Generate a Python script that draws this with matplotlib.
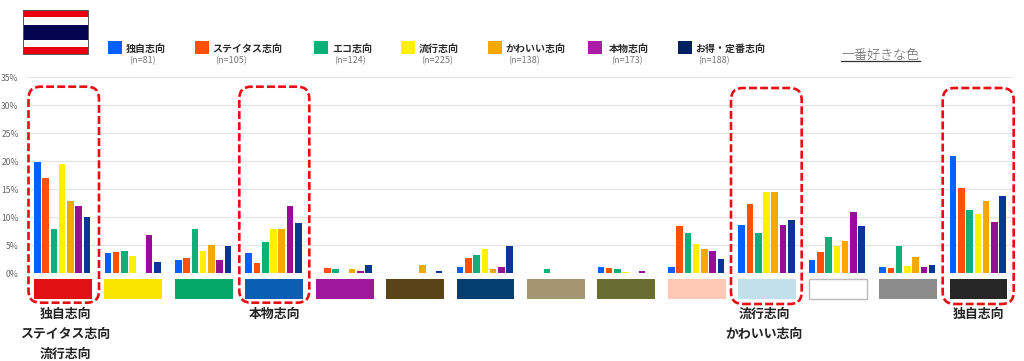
import matplotlib
matplotlib.use("Agg")
import matplotlib.pyplot as plt
from matplotlib.patches import Rectangle, FancyBboxPatch
from matplotlib.lines import Line2D
from matplotlib.transforms import blended_transform_factory

plt.rcParams['font.family'] = ['Noto Sans CJK JP', 'DejaVu Sans']

W, H = 1024, 361

series_names = ['独自志向', 'ステイタス志向', 'エコ志向', '流行志向', 'かわいい志向', '本物志向', 'お得・定番志向']
series_n = ['(n=81)', '(n=105)', '(n=124)', '(n=225)', '(n=138)', '(n=173)', '(n=188)']

dokuji = [19.8, 3.6, 2.4, 3.6, 0, 0, 1.1, 0, 1.1, 1.1, 8.6, 2.45, 1.1, 20.9]
status = [17.1, 3.75, 2.8, 1.9, 0.9, 0, 2.8, 0, 0.9, 8.45, 12.3, 3.75, 0.9, 15.2]
eco = [8.0, 4.0, 8.0, 5.6, 0.7, 0, 3.2, 0.7, 0.7, 7.15, 7.15, 6.4, 4.8, 11.25]
ryuko = [19.5, 3.1, 4.0, 7.9, 0, 0, 4.4, 0, 0.3, 5.2, 14.6, 4.8, 1.3, 10.6]
kawaii = [13.0, 0, 5.05, 7.9, 0.7, 1.4, 0.7, 0, 0, 4.3, 14.5, 5.7, 2.85, 13.0]
honmono = [12.1, 6.85, 2.3, 12.1, 0.5, 0, 1.1, 0, 0.5, 4.0, 8.6, 10.95, 1.1, 9.2]
otoku = [10.0, 2.0, 4.8, 9.0, 1.5, 0.5, 4.8, 0, 0, 2.55, 9.5, 8.45, 1.5, 13.8]
all_series = [dokuji, status, eco, ryuko, kawaii, honmono, otoku]

bar_colors = ['#0560FF', '#FF5008', '#0FAF78', '#FFF000', '#F7A800', '#960D98', '#0B3594']
legend_colors = ['#0560FF', '#FF5008', '#0BAF78', '#FFF100', '#F7A900', '#AB1DA5', '#002060']
swatch_colors = ['#E31212', '#FAE500', '#05A866', '#0A5FB4', '#A0189B', '#5B4318', '#053E70',
                 '#A49671', '#6A6D32', '#FFC9B5', '#C2E0EC', '#FFFFFF', '#8C8C8C', '#262626']
yticks = [0, 5, 10, 15, 20, 25, 30, 35]
ytick_labels = ['0%', '5%', '10%', '15%', '20%', '25%', '30%', '35%']

fig = plt.figure(figsize=(W / 100, H / 100), dpi=100, facecolor='white')


def fx(x):
    return x / W


def fy(y):
    return 1 - y / H


ax = fig.add_axes([fx(27), fy(273.3), fx(986), (273.3 - 77.3) / H])
ax.set_xlim(0, 14)
ax.set_ylim(0, 35)
ax.set_xticks([])
ax.set_yticks(yticks)
ax.set_yticklabels(ytick_labels, fontsize=6.2, color='#666666')
ax.tick_params(axis='y', length=0, pad=6)
for s in ax.spines.values():
    s.set_visible(False)
ax.grid(axis='y', color='#E6E6E6', lw=1)
ax.set_axisbelow(True)

step = 0.1172
for j, vals in enumerate(all_series):
    xs = [i + 0.5 + (j - 3) * step for i in range(len(vals))]
    ax.bar(xs, vals, width=0.093, color=bar_colors[j], linewidth=0)

# colour swatches below the axis
trans = blended_transform_factory(ax.transData, fig.transFigure)
for i, c in enumerate(swatch_colors):
    edge = '#BBBBBB' if c == '#FFFFFF' else c
    ax.add_patch(Rectangle((i + 0.51 - 0.41, fy(299)), 0.82, 20 / H, transform=trans,
                           facecolor=c, edgecolor=edge, lw=1 if c == '#FFFFFF' else 0,
                           clip_on=False))

# dashed highlight boxes
boxes = [(28.5, 86.7, 99, 302.7), (239.3, 86.7, 309.3, 302.7),
         (731, 88, 801.7, 304), (942.7, 88, 1013.7, 304)]
for x0, y0, x1, y1 in boxes:
    r = 12
    fig.add_artist(FancyBboxPatch((x0 + r, H - y1 + r), x1 - x0 - 2 * r, y1 - y0 - 2 * r,
                                  boxstyle=f'round,pad={r},rounding_size={r}',
                                  transform=None, fill=False, edgecolor='#E60F14',
                                  lw=1.9, linestyle=(0, (3.0, 1.2)), clip_on=False))

# legend
sw_x = [108.3, 195, 314.3, 401, 487.7, 588, 678]
tx_x = [125.7, 212.7, 332, 418.3, 505.3, 608.3, 695.3]
n_x = [142, 231, 350, 437, 524, 627, 713.7]
for j in range(7):
    fig.add_artist(Rectangle((fx(sw_x[j]), fy(54)), 14 / W, 13 / H, transform=fig.transFigure,
                             facecolor=legend_colors[j], edgecolor='none'))
    fig.text(fx(tx_x[j]), fy(52), series_names[j], fontsize=7.2, color='#2A2A2A',
             weight='bold', ha='left', va='baseline')
    fig.text(fx(n_x[j]), fy(63), series_n[j], fontsize=6.5, color='#777777',
             ha='center', va='baseline')

# flag
stripes = [(10, 17, '#E8000F'), (17, 25, '#FFFFFF'), (25, 40, '#05054F'), (40, 47, '#FFFFFF'), (47, 54, '#E8000F')]
for y0, y1, c in stripes:
    fig.add_artist(Rectangle((fx(23), fy(y1)), 65 / W, (y1 - y0) / H, transform=fig.transFigure,
                             facecolor=c, edgecolor='none'))
fig.add_artist(Rectangle((fx(23), fy(54)), 65 / W, 44 / H, transform=fig.transFigure,
                         facecolor='none', edgecolor='#555555', lw=0.7))

# heading
fig.text(fx(880.5), fy(58.5), '一番好きな色', fontsize=9.4, color='#666666',
         ha='center', va='baseline', weight='light')
fig.add_artist(Line2D([fx(841), fx(920)], [fy(60.5), fy(60.5)], transform=fig.transFigure,
                      color='#333333', lw=0.9))

# annotations under highlighted colours
notes = [(65, 317.5, '独自志向'), (65, 338, 'ステイタス志向'), (65, 358, '流行志向'),
         (274.3, 318, '本物志向'), (764, 318, '流行志向'), (764.3, 338, 'かわいい志向'),
         (978.7, 318, '独自志向')]
for x, y, s in notes:
    fig.text(fx(x), fy(y), s, fontsize=9.3, color='#222222', weight='bold',
             ha='center', va='baseline')

fig.savefig('out.png', dpi=100, facecolor='white')
